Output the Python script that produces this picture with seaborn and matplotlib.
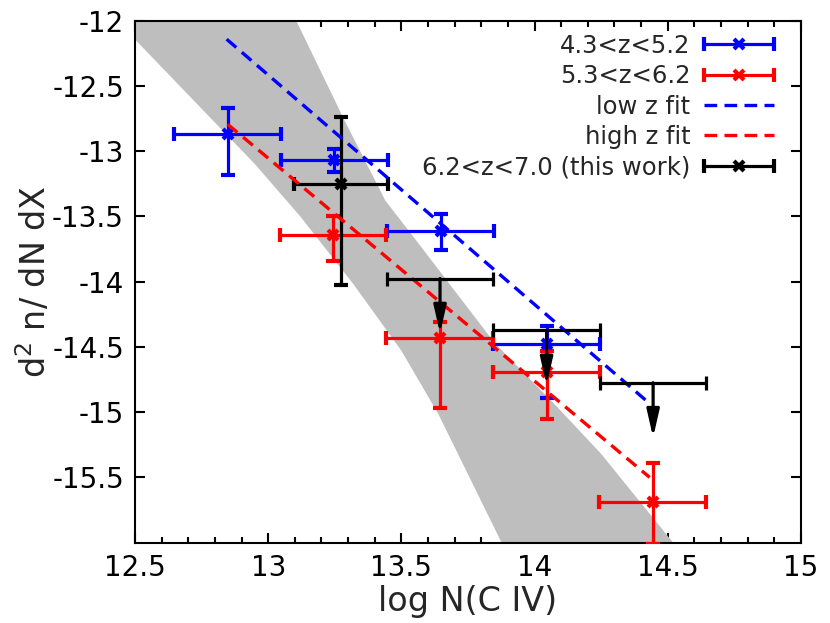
import numpy as np
import pandas as pd
import seaborn as sns
from matplotlib import pyplot as plt
from matplotlib.ticker import MultipleLocator, FormatStrFormatter
from matplotlib.container import ErrorbarContainer
from matplotlib.legend_handler import HandlerErrorbar

# 4.3<z<5.2
low_x = [12.848, 13.248, 13.647, 14.045]
low_y = [-12.872, -13.069, -13.612, -14.481]
low_yerr_lo = [0.312, 0.090, 0.143, 0.412]
low_yerr_hi = [0.200, 0.084, 0.128, 0.138]
low_xerr = [0.2, 0.2, 0.2, 0.2]

# 5.3<z<6.2
high_x = [13.244, 13.644, 14.045, 14.443]
high_y = [-13.645, -14.430, -14.690, -15.691]
high_yerr_lo = [0.199, 0.537, 0.360, 0.320]
high_yerr_hi = [0.146, 0.120, 0.160, 0.299]
high_xerr = [0.2, 0.2, 0.2, 0.2]

# 6.2<z<7.0 (this work): one detection + upper limits
det_x = [13.273]
det_y = [-13.253]
det_yerr_lo = [0.775]
det_yerr_hi = [0.511]
det_xerr = [0.175]
lim_x = [13.645, 14.045, 14.445]
lim_y = [-13.977, -14.374, -14.775]
lim_xerr = [0.2, 0.2, 0.2]
arrow_len = 0.42

# fits
low_fit_x = [12.844, 14.426]
low_fit_y = [-12.143, -14.924]
high_fit_x = [12.848, 14.432]
high_fit_y = [-12.795, -15.500]

# shaded band (edges)
band_up_x = [12.5, 13.105, 13.29, 13.44, 13.55, 13.85, 14.08, 14.25, 14.52]
band_up_y = [-12.0, -12.0, -12.78, -13.38, -13.67, -14.47, -14.95, -15.32, -16.0]
band_lo_x = [12.5, 12.95, 13.12, 13.32, 13.50, 13.64, 13.876]
band_lo_y = [-12.145, -13.10, -13.50, -14.02, -14.53, -15.02, -16.0]

x_ticks = [12.5, 13, 13.5, 14, 14.5, 15]
y_ticks = [-12, -12.5, -13, -13.5, -14, -14.5, -15, -15.5]

sns.set_theme(style="ticks")
plt.rcParams["font.family"] = ["DejaVu Sans"]
plt.rcParams["axes.unicode_minus"] = False

fig = plt.figure(figsize=(8.3, 6.23), dpi=100)
ax = fig.add_axes([0.1627, 0.129, 0.8023, 0.838])

poly_x = band_up_x + band_lo_x[::-1]
poly_y = band_up_y + band_lo_y[::-1]
ax.fill(poly_x, poly_y, color="#bebebe", lw=0, zorder=1)

eb = dict(fmt="x", ms=7, mew=3, elinewidth=2.3, capsize=5, capthick=2.3, zorder=3)
ax.errorbar(low_x, low_y, xerr=low_xerr, yerr=[low_yerr_lo, low_yerr_hi],
            color="#0000ff", **eb)
ax.errorbar(high_x, high_y, xerr=high_xerr, yerr=[high_yerr_lo, high_yerr_hi],
            color="#ff0000", **eb)

fits = pd.DataFrame({
    "x": low_fit_x + high_fit_x,
    "y": low_fit_y + high_fit_y,
    "fit": ["low z fit"] * 2 + ["high z fit"] * 2,
})
sns.lineplot(data=fits, x="x", y="y", hue="fit", palette={"low z fit": "#0000ff", "high z fit": "#ff0000"},
             lw=2.4, ax=ax, legend=False, zorder=4)
for ln in ax.get_lines()[-2:]:
    ln.set_dashes((3.8, 2.2))

ax.errorbar(det_x, det_y, xerr=det_xerr, yerr=[det_yerr_lo, det_yerr_hi],
            color="black", **eb)
ax.errorbar(lim_x, lim_y, xerr=lim_xerr, fmt="none", ecolor="black",
            elinewidth=2.3, capsize=5, capthick=2.3, zorder=5)
for x, y in zip(lim_x, lim_y):
    ax.annotate("", xy=(x, y - arrow_len), xytext=(x, y),
                arrowprops=dict(arrowstyle="-|>,head_length=1.1,head_width=0.25",
                                mutation_scale=15, color="black", lw=2.3,
                                shrinkA=0, shrinkB=0), zorder=5)

# legend proxies (horizontal bars only, as in the original)
h_low = ax.errorbar([np.nan], [np.nan], xerr=[0.2], color="#0000ff", **eb)
h_high = ax.errorbar([np.nan], [np.nan], xerr=[0.2], color="#ff0000", **eb)
h_this = ax.errorbar([np.nan], [np.nan], xerr=[0.2], color="black", **eb)
h_lowfit, = ax.plot([], [], color="#0000ff", lw=2.4, dashes=(3.8, 2.2))
h_highfit, = ax.plot([], [], color="#ff0000", lw=2.4, dashes=(3.8, 2.2))

ax.set_xlim(12.5, 15)
ax.set_ylim(-16.0, -12)
ax.set_xticks(x_ticks)
ax.set_yticks(y_ticks)
ax.xaxis.set_minor_locator(MultipleLocator(0.1))
ax.xaxis.set_major_formatter(FormatStrFormatter("%g"))
ax.yaxis.set_major_formatter(FormatStrFormatter("%g"))
ax.tick_params(which="both", direction="in", top=True, right=True, colors="black",
               labelsize=20, width=1.5)
ax.tick_params(which="major", length=7, pad=8)
ax.tick_params(which="minor", length=4)
for s in ax.spines.values():
    s.set_linewidth(1.5)
    s.set_color("black")

ax.set_xlabel("log N(C IV)", fontsize=24, labelpad=2)
ax.set_ylabel("d$^2$ n/ dN dX", fontsize=24, labelpad=-1)

ax.legend([h_low, h_high, h_lowfit, h_highfit, h_this],
          ["4.3<z<5.2", "5.3<z<6.2", "low z fit", "high z fit", "6.2<z<7.0 (this work)"],
          loc="upper right", frameon=False, markerfirst=False, fontsize=17.5,
          handlelength=2.9, handletextpad=0.55, labelspacing=0.26,
          borderaxespad=0.15, bbox_to_anchor=(0.98, 1.0),
          handler_map={ErrorbarContainer: HandlerErrorbar(xerr_size=1.45)})

plt.savefig("out.png", dpi=100)
